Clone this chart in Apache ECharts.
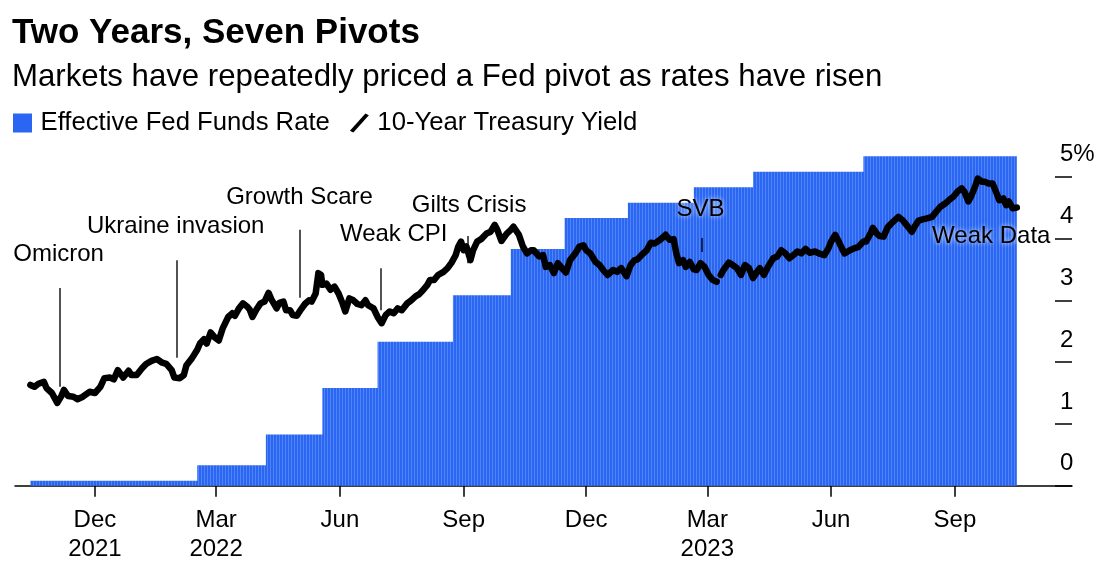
<!DOCTYPE html>
<html>
<head>
<meta charset="utf-8">
<script src="https://cdn.jsdelivr.net/npm/echarts@6/dist/echarts.min.js"></script>
<style>
html,body{margin:0;padding:0;background:#fff;}
#chart{width:1101px;height:574px;}
</style>
</head>
<body>
<div id="chart"></div>
<script>
// ---------- DATA ----------
const titleText = 'Two Years, Seven Pivots';
const subtitleText = 'Markets have repeatedly priced a Fed pivot as rates have risen';
const fedName = 'Effective Fed Funds Rate';
const tyName = '10-Year Treasury Yield';

// Effective Fed Funds Rate: step start dates and levels (last date = end of data)
const fedDates = ['2021-10-14','2022-02-15','2022-04-07','2022-05-19','2022-06-29','2022-08-24','2022-10-06','2022-11-15','2023-01-01','2023-02-19','2023-04-04','2023-06-25','2023-10-17'];
const fedValues = [0.08,0.33,0.83,1.58,2.33,3.08,3.83,4.33,4.58,4.83,5.08,5.33,5.33];

// 10-Year Treasury Yield
const tyDates = ['2021-10-14','2021-10-17','2021-10-20','2021-10-24','2021-10-26','2021-10-30','2021-11-03','2021-11-06','2021-11-08','2021-11-11','2021-11-15','2021-11-18','2021-11-22','2021-11-27','2021-12-01','2021-12-05','2021-12-08','2021-12-12','2021-12-15','2021-12-18','2021-12-22','2021-12-26','2021-12-28','2022-01-01','2022-01-05','2022-01-08','2022-01-12','2022-01-16','2022-01-20','2022-01-23','2022-01-27','2022-01-29','2022-02-02','2022-02-05','2022-02-07','2022-02-11','2022-02-15','2022-02-17','2022-02-20','2022-02-22','2022-02-25','2022-02-28','2022-03-03','2022-03-06','2022-03-10','2022-03-13','2022-03-15','2022-03-18','2022-03-21','2022-03-24','2022-03-26','2022-03-28','2022-03-31','2022-04-03','2022-04-06','2022-04-09','2022-04-11','2022-04-15','2022-04-17','2022-04-20','2022-04-22','2022-04-25','2022-04-27','2022-04-30','2022-05-03','2022-05-06','2022-05-09','2022-05-11','2022-05-14','2022-05-16','2022-05-18','2022-05-19','2022-05-22','2022-05-25','2022-05-28','2022-05-31','2022-06-03','2022-06-05','2022-06-08','2022-06-11','2022-06-14','2022-06-17','2022-06-20','2022-06-22','2022-06-26','2022-06-29','2022-07-02','2022-07-05','2022-07-08','2022-07-11','2022-07-14','2022-07-17','2022-07-21','2022-07-24','2022-07-27','2022-07-30','2022-08-02','2022-08-05','2022-08-07','2022-08-10','2022-08-13','2022-08-17','2022-08-20','2022-08-23','2022-08-26','2022-08-28','2022-08-30','2022-09-01','2022-09-03','2022-09-06','2022-09-08','2022-09-11','2022-09-14','2022-09-18','2022-09-21','2022-09-24','2022-09-26','2022-09-29','2022-10-03','2022-10-06','2022-10-08','2022-10-12','2022-10-15','2022-10-18','2022-10-21','2022-10-23','2022-10-27','2022-10-30','2022-11-01','2022-11-04','2022-11-07','2022-11-10','2022-11-13','2022-11-16','2022-11-19','2022-11-23','2022-11-26','2022-11-29','2022-12-01','2022-12-04','2022-12-08','2022-12-11','2022-12-14','2022-12-17','2022-12-21','2022-12-24','2022-12-27','2022-12-31','2023-01-03','2023-01-06','2023-01-08','2023-01-11','2023-01-15','2023-01-18','2023-01-21','2023-01-25','2023-01-29','2023-02-01','2023-02-04','2023-02-06','2023-02-08','2023-02-11','2023-02-13','2023-02-16','2023-02-19','2023-02-21','2023-02-24','2023-02-27','2023-03-02','2023-03-05','2023-03-08','2023-03-09','2023-03-11','2023-03-13','2023-03-17','2023-03-20','2023-03-23','2023-03-26','2023-03-29','2023-04-01','2023-04-04','2023-04-07','2023-04-09','2023-04-12','2023-04-15','2023-04-19','2023-04-22','2023-04-25','2023-04-28','2023-05-01','2023-05-04','2023-05-07','2023-05-10','2023-05-13','2023-05-16','2023-05-20','2023-05-24','2023-05-27','2023-05-30','2023-06-01','2023-06-04','2023-06-06','2023-06-09','2023-06-11','2023-06-15','2023-06-18','2023-06-21','2023-06-25','2023-06-27','2023-06-30','2023-07-02','2023-07-05','2023-07-07','2023-07-10','2023-07-13','2023-07-17','2023-07-21','2023-07-24','2023-07-27','2023-07-31','2023-08-02','2023-08-05','2023-08-08','2023-08-12','2023-08-15','2023-08-18','2023-08-21','2023-08-25','2023-08-28','2023-08-31','2023-09-03','2023-09-06','2023-09-08','2023-09-11','2023-09-13','2023-09-16','2023-09-18','2023-09-21','2023-09-23','2023-09-26','2023-09-29','2023-10-02','2023-10-04','2023-10-07','2023-10-09','2023-10-11','2023-10-14','2023-10-17'];
const tyValues = [1.63,1.60,1.65,1.68,1.58,1.50,1.34,1.45,1.55,1.45,1.44,1.40,1.44,1.52,1.50,1.60,1.74,1.75,1.72,1.87,1.75,1.86,1.79,1.79,1.90,1.97,2.02,2.05,1.99,1.97,1.87,1.75,1.74,1.79,1.95,2.06,2.20,2.30,2.37,2.30,2.48,2.40,2.35,2.55,2.73,2.79,2.75,2.87,2.95,2.90,2.85,2.73,2.85,2.95,2.98,3.12,3.02,2.87,2.96,2.98,2.84,2.84,2.76,2.75,2.85,2.94,3.00,2.98,3.11,3.44,3.41,3.25,3.27,3.17,3.22,3.11,2.95,2.82,3.03,3.00,2.94,2.92,3.00,2.92,2.87,2.73,2.63,2.76,2.82,2.79,2.87,2.84,2.95,3.00,3.06,3.10,3.17,3.25,3.33,3.33,3.41,3.46,3.52,3.61,3.73,3.87,3.95,3.81,3.87,3.65,3.81,3.95,3.99,4.08,4.11,4.22,4.14,3.96,4.08,4.14,4.19,4.06,3.87,3.76,3.81,3.81,3.71,3.73,3.54,3.57,3.44,3.60,3.52,3.45,3.65,3.76,3.87,3.89,3.81,3.76,3.62,3.57,3.48,3.41,3.49,3.46,3.52,3.39,3.57,3.65,3.66,3.73,3.81,3.93,3.92,3.98,4.06,3.98,3.99,3.76,3.60,3.65,3.54,3.62,3.50,3.49,3.60,3.54,3.41,3.33,3.30,null,3.41,3.49,3.61,3.57,3.52,3.41,3.57,3.52,3.36,3.46,3.52,3.41,3.54,3.68,3.71,3.81,3.76,3.68,3.73,3.79,3.76,3.83,3.77,3.79,3.75,3.73,3.84,3.95,4.06,3.98,3.84,3.76,3.81,3.84,3.86,3.95,3.95,4.07,4.17,4.08,4.04,4.03,4.18,4.27,4.35,4.30,4.22,4.11,4.19,4.29,4.31,4.33,4.35,4.43,4.51,4.57,4.63,4.68,4.76,4.81,4.76,4.60,4.68,4.84,4.97,4.92,4.92,4.89,4.89,4.73,4.62,4.65,4.54,4.60,4.49,4.50];

// Annotations: event names, marker date, marker low/high value, label date/value
const eventNames = ['Omicron','Ukraine invasion','Growth Scare','Weak CPI','Gilts Crisis','SVB','Weak Data'];
const eventDates = ['2021-11-05','2022-01-31','2022-05-02','2022-07-01','2022-09-04','2023-02-25','2023-09-29'];
const eventLow =  [1.60,2.07,3.04,2.84,3.60,3.78,3.56];
const eventHigh = [3.20,3.65,4.14,3.52,4.04,4.01,5.12];
const eventLabelDates = ['2021-11-04','2022-01-30','2022-05-02','2022-07-11','2022-09-05','2023-02-24','2023-09-28'];
const eventLabelValues = [3.75,4.20,4.67,4.06,4.54,4.47,4.04];

// Axis ticks
const xTickDates = ['2021-12-01','2022-03-01','2022-06-01','2022-09-01','2022-12-01','2023-03-01','2023-06-01','2023-09-01'];
const xTickLabels = ['Dec\n2021','Mar\n2022','Jun','Sep','Dec','Mar\n2023','Jun','Sep'];
const xMin = '2021-10-02T14:00:00';
const xMax = '2023-11-27T00:00:00';
const yTicks = [0,1,2,3,4,5];

// ---------- BUILD ----------
const ts = s => new Date(s.length === 10 ? s + 'T00:00:00' : s).getTime();
const FONT = '"Liberation Sans", Arial, Helvetica, sans-serif';
const BLUE = '#2a66f2';

const pc = document.createElement('canvas');
pc.width = 3; pc.height = 4;
const pctx = pc.getContext('2d');
pctx.fillStyle = BLUE; pctx.fillRect(0,0,3,4);
pctx.fillStyle = '#4f85f6'; pctx.fillRect(0,0,1,4);

const fedData = fedDates.map((d,i) => [ts(d), fedValues[i]]);
const tyData = tyDates.map((d,i) => [ts(d), tyValues[i]]);
const xTickTs = xTickDates.map(ts);

const markLines = eventNames.map((n,i) => [
  {coord: [ts(eventDates[i]), eventLow[i]]},
  {coord: [ts(eventDates[i]), eventHigh[i]]}
]);
const markPoints = eventNames.map((n,i) => ({name: n, coord: [ts(eventLabelDates[i]), eventLabelValues[i]]}));

const chart = echarts.init(document.getElementById('chart'), null, {renderer: 'canvas'});
chart.setOption({
  animation: false,
  backgroundColor: '#fff',
  textStyle: {fontFamily: FONT},
  title: [
    {text: titleText, left: 12, top: 16, padding: 0,
     textStyle: {fontFamily: FONT, fontSize: 35, fontWeight: 'bold', color: '#000', lineHeight: 35}},
    {text: subtitleText, left: 12, top: 62, padding: 0,
     textStyle: {fontFamily: FONT, fontSize: 31.2, fontWeight: 'normal', color: '#000', lineHeight: 31}}
  ],
  legend: {
    left: 13, top: 110, padding: 0, itemGap: 20, itemWidth: 22, itemHeight: 19,
    selectedMode: false, symbolKeepAspect: true,
    textStyle: {fontFamily: FONT, fontSize: 25.7, color: '#000', lineHeight: 26, padding: [0,0,0,2]},
    data: [
      {name: fedName, icon: 'path://M0,0 L18,0 L18,18 L0,18 Z', itemStyle: {color: BLUE}},
      {name: tyName, icon: 'path://M0,20 L4,22 L22,2 L18,0 Z', itemStyle: {color: '#000'}}
    ]
  },
  grid: {left: 15, right: 29, top: 176.7, bottom: 88.3, containLabel: false},
  xAxis: {
    type: 'value', min: ts(xMin), max: ts(xMax), scale: true,
    axisLine: {show: true, lineStyle: {color: '#000', width: 1.5}},
    axisTick: {show: true, customValues: xTickTs, length: 11, lineStyle: {color: '#000', width: 1.5}},
    axisLabel: {
      customValues: xTickTs, margin: 20, fontSize: 24, lineHeight: 29, color: '#000', fontFamily: FONT,
      formatter: v => { const k = xTickTs.indexOf(v); return k >= 0 ? xTickLabels[k] : ''; }
    },
    splitLine: {show: false}
  },
  yAxis: {
    type: 'value', position: 'right', min: yTicks[0], max: yTicks[yTicks.length-1], interval: 1,
    axisLine: {show: false},
    axisTick: {show: true, inside: true, length: 17, lineStyle: {color: '#000', width: 1.5}},
    axisLabel: {
      inside: true, align: 'left', margin: 12, verticalAlign: 'bottom', lineHeight: 24,
      padding: [0,0,10,0], fontSize: 24, color: '#000', fontFamily: FONT,
      formatter: v => v === 5 ? '5%' : String(v)
    },
    splitLine: {show: false}
  },
  series: [
    {
      name: fedName, type: 'line', step: 'end', data: fedData, symbol: 'none', clip: false,
      itemStyle: {color: BLUE},
      lineStyle: {width: 0, opacity: 0},
      areaStyle: {color: {image: pc, repeat: 'repeat'}, opacity: 1},
      silent: true, z: 1
    },
    {
      name: tyName, type: 'line', data: tyData, symbol: 'none', clip: false, connectNulls: false,
      itemStyle: {color: '#000'},
      lineStyle: {color: '#000', width: 6.5, cap: 'round', join: 'round'},
      silent: true, z: 3,
      markLine: {
        silent: true, symbol: ['none','none'], animation: false,
        label: {show: false},
        lineStyle: {color: 'rgba(0,0,0,0.85)', width: 1.6, type: 'solid'},
        emphasis: {disabled: true},
        data: markLines
      },
      markPoint: {
        silent: true, symbol: 'circle', symbolSize: 0, animation: false,
        label: {show: true, position: 'inside', formatter: '{b}', fontFamily: FONT, fontSize: 24, color: '#000',
                textShadowColor: 'rgba(255,255,255,0.9)', textShadowBlur: 5},
        data: markPoints
      }
    }
  ]
});
</script>
</body>
</html>
